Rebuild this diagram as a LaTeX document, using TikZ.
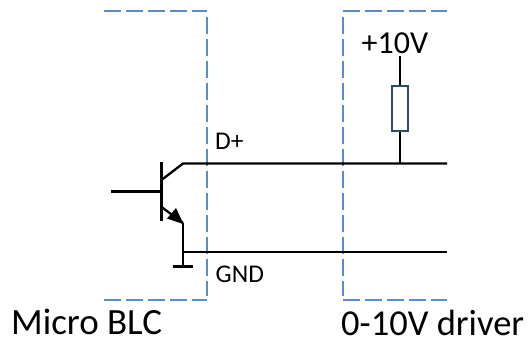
\documentclass[tikz,border=0pt]{standalone}
\usepackage{fontspec}
\setmainfont{Carlito}
\definecolor{dashblue}{HTML}{5B8CC8}
\definecolor{resblue}{HTML}{2B4A6F}
\tikzset{
  x=1pt,y=-1pt,
  boxline/.style={draw=dashblue,line width=2pt,dash pattern=on 16.5pt off 5.5pt},
  wire/.style={draw=black,line width=2.3pt},
  resistor/.style={draw=resblue,fill=white,line width=2.3pt,minimum width=16pt,minimum height=45pt,inner sep=0pt},
  midtext/.style={inner sep=0pt,font=\fontsize{32}{34}\selectfont},
  small/.style={inner sep=0pt,font=\fontsize{25.5}{27}\selectfont},
}
\begin{document}
\begin{tikzpicture}
\useasboundingbox (0,0) rectangle (531,343);
% module outlines
\coordinate (lt) at (104,11);
\coordinate (lc) at (207,11);
\coordinate (lv) at (206.5,17);
\coordinate (lb) at (206.5,296);
\coordinate (le) at (104,299.5);
\coordinate (lf) at (207,299.5);
\coordinate (rt) at (447,11);
\coordinate (rc) at (343,11);
\coordinate (rv) at (343,17);
\coordinate (rb) at (343,296);
\coordinate (rs) at (343,300);
\coordinate (re) at (447,300);
\draw[boxline] (lt) -- (lc);
\draw[boxline] (lv) -- (lb);
\draw[boxline] (le) -- (lf);
\draw[boxline] (rc) -- (rt);
\draw[boxline] (rv) -- (rb);
\draw[boxline] (rs) -- (re);
% transistor
\coordinate (bartop) at (161.5,162);
\coordinate (barbot) at (161.5,221);
\coordinate (basein) at (110.5,191.5);
\coordinate (basebar) at (161.5,191.5);
\coordinate (colbar) at (161.5,180);
\coordinate (col) at (183,163.5);
\coordinate (embar) at (161.5,207);
\coordinate (em) at (183,223);
\coordinate (gndtop) at (183,252);
\coordinate (gndv) at (183,266.5);
\coordinate (gl) at (172.5,266.5);
\coordinate (gr) at (193,266.5);
\coordinate (dend) at (447,163.5);
\coordinate (gend) at (447,252);
\coordinate (rj) at (400,163.5);
\coordinate (rtop) at (400,56);
\draw[wire] (bartop) -- (barbot);
\draw[wire] (basein) -- (basebar);
\draw[wire] (colbar) -- (col) -- (dend);
\draw[wire] (embar) -- (em);
\fill[black] (183.5,224) -- (167,218.5) -- (176,208) -- cycle;
\draw[wire] (em) -- (gndv);
\draw[wire] (gl) -- (gr);
\draw[wire] (gndtop) -- (gend);
% resistor
\node[resistor] (R) at (400,108.5) {};
\draw[wire] (rtop) -- (R.north);
\draw[wire] (R.south) -- (rj);
% labels
\node[small,anchor=base west] (dp) at (215,149) {D+};
\node[small,anchor=base west] (gnd) at (215.5,282) {GND};
\node[midtext,anchor=base] (v) at (395,53) {+10V};
\node[inner sep=0pt,font=\fontsize{37}{40}\selectfont,anchor=base west] (mb) at (11,334) {Micro BLC};
\node[inner sep=0pt,font=\fontsize{36.5}{40}\selectfont,anchor=base west] (dr) at (341,335) {0-10V driver};
\end{tikzpicture}
\end{document}
